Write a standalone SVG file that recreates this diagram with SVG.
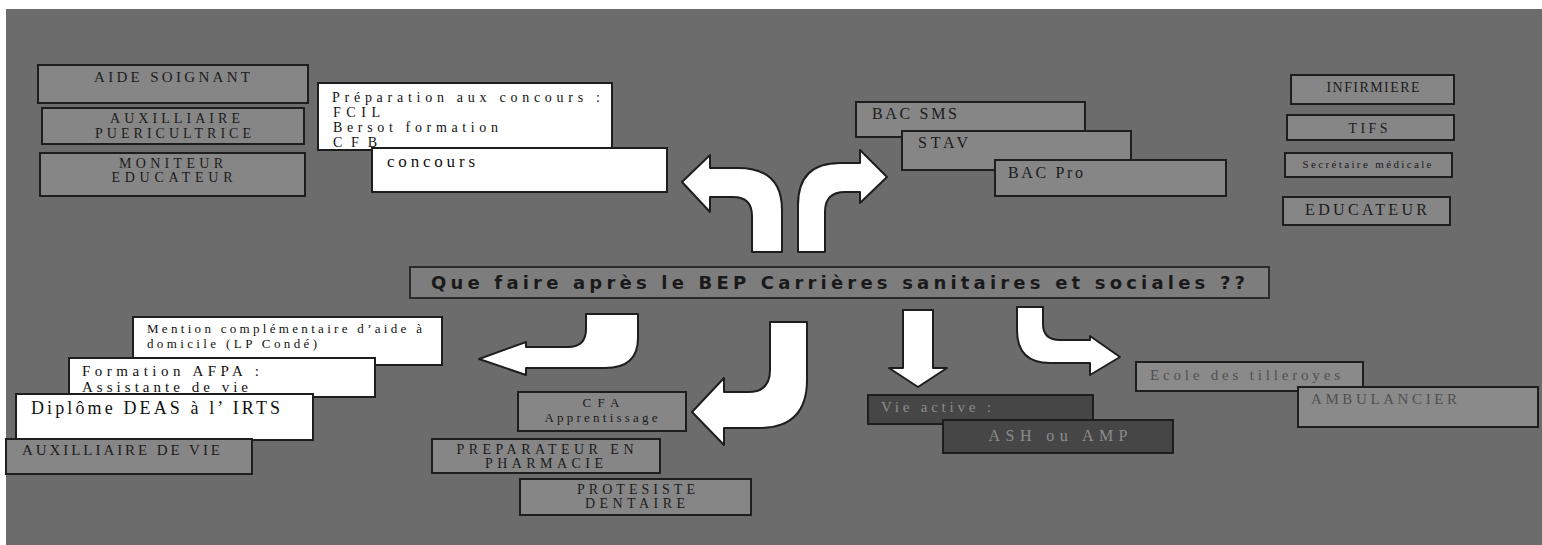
<svg xmlns="http://www.w3.org/2000/svg" width="1542" height="545" viewBox="0 0 1542 545">
<style>
.g{fill:#868686;stroke:#1e1e1e;stroke-width:2}
.w{fill:#ffffff;stroke:#1e1e1e;stroke-width:2}
.d{fill:#464646;stroke:#1e1e1e;stroke-width:2}
.l{fill:#8a8a8a;stroke:#1e1e1e;stroke-width:2}
.t{font-family:"Liberation Serif","Times New Roman",serif;fill:#1c1c1c;font-size:15px}
.tc{text-anchor:middle}
.tw{font-family:"Liberation Serif","Times New Roman",serif;fill:#111;font-size:17px}
.td{font-family:"Liberation Serif","Times New Roman",serif;fill:#8c8c8c;font-size:15px}
.tl{font-family:"Liberation Serif","Times New Roman",serif;fill:#505050;font-size:15px}
.arr{fill:#ffffff;stroke:#1e1e1e;stroke-width:2;stroke-linejoin:round}
</style>
<rect x="0" y="0" width="1542" height="545" fill="#ffffff"/>
<rect x="6" y="9" width="1536" height="536" fill="#6c6c6c"/>

<g id="aide-soignant"><rect class="g" x="38" y="65" width="270" height="38"/><text class="t tc" x="172" y="82" textLength="156">AIDE SOIGNANT</text></g>
<g id="auxilliaire-puericultrice"><rect class="g" x="42" y="108" width="262" height="36"/><text class="t tc" x="175" y="123" style="font-size:14px" textLength="130">AUXILLIAIRE</text><text class="t tc" x="173" y="138" style="font-size:14px" textLength="156">PUERICULTRICE</text></g>
<g id="moniteur-educateur"><rect class="g" x="40" y="153" width="265" height="43"/><text class="t tc" x="171" y="168" style="font-size:14px" textLength="104">MONITEUR</text><text class="t tc" x="172" y="182" style="font-size:14px" textLength="121">EDUCATEUR</text></g>

<g id="preparation"><rect class="w" x="318" y="83" width="294" height="67"/><text class="tw" x="332" y="102" style="font-size:14px" textLength="268">Préparation aux concours :</text><text class="tw" x="333" y="117" style="font-size:14px" textLength="47">FCIL</text><text class="tw" x="333" y="132" style="font-size:14px" textLength="165">Bersot formation</text><text class="tw" x="333" y="147" style="font-size:14px" textLength="44">CFB</text></g>
<g id="concours"><rect class="w" x="372" y="148" width="295" height="44"/><text class="tw" x="387" y="167" textLength="88">concours</text></g>

<g id="bac-sms"><rect class="g" x="856" y="102" width="229" height="35"/><text class="t" x="872" y="119" style="font-size:16px" textLength="85">BAC SMS</text></g>
<g id="stav"><rect class="g" x="902" y="131" width="229" height="39"/><text class="t" x="918" y="148" style="font-size:16px" textLength="50">STAV</text></g>
<g id="bac-pro"><rect class="g" x="995" y="160" width="231" height="36"/><text class="t" x="1008" y="178" style="font-size:16px" textLength="75">BAC Pro</text></g>

<g id="infirmiere"><rect class="g" x="1291" y="75" width="163" height="29"/><text class="t tc" x="1373" y="92" style="font-size:14px" textLength="93">INFIRMIERE</text></g>
<g id="tifs"><rect class="g" x="1287" y="115" width="167" height="25"/><text class="t tc" x="1368" y="133" style="font-size:14px" textLength="39">TIFS</text></g>
<g id="secretaire"><rect class="g" x="1285" y="153" width="167" height="24"/><text class="t tc" x="1367" y="168" style="font-size:11px" textLength="129">Secrétaire médicale</text></g>
<g id="educateur"><rect class="g" x="1283" y="197" width="167" height="28"/><text class="t tc" x="1366" y="215" style="font-size:16px" textLength="122">EDUCATEUR</text></g>

<g id="titre"><rect x="410" y="267" width="859" height="31" fill="#7d7d7d" stroke="#2a2a2a" stroke-width="2"/><text x="431" y="289" font-family="'DejaVu Sans',Verdana,sans-serif" font-size="18" font-weight="bold" fill="#1a1a1a" textLength="814">Que faire après le BEP Carrières sanitaires et sociales ??</text></g>

<g id="mention"><rect class="w" x="133" y="317" width="309" height="48"/><text class="tw" x="147" y="333" style="font-size:13px" textLength="275">Mention complémentaire d’aide à</text><text class="tw" x="147" y="348" style="font-size:13px" textLength="170">domicile (LP Condé)</text></g>
<g id="afpa"><rect class="w" x="69" y="358" width="306" height="39"/><text class="tw" x="82" y="376" style="font-size:15px" textLength="177">Formation AFPA :</text><text class="tw" x="82" y="392" style="font-size:15px" textLength="166">Assistante de vie</text></g>
<g id="deas"><rect class="w" x="16" y="394" width="297" height="46"/><text class="tw" x="31" y="414" style="font-size:18px" textLength="249">Diplôme DEAS à l’ IRTS</text></g>
<g id="auxilliaire-de-vie"><rect class="g" x="6" y="439" width="246" height="35"/><text class="t" x="22" y="455" textLength="198">AUXILLIAIRE DE VIE</text></g>

<g id="cfa"><rect class="g" x="518" y="392" width="168" height="39"/><text class="t tc" x="601" y="407" style="font-size:13px" textLength="37">CFA</text><text class="t tc" x="601" y="422" style="font-size:13px" textLength="113">Apprentissage</text></g>
<g id="preparateur"><rect class="g" x="432" y="439" width="228" height="34"/><text class="t tc" x="545" y="454" style="font-size:14px" textLength="177">PREPARATEUR EN</text><text class="t tc" x="544" y="468" style="font-size:14px" textLength="118">PHARMACIE</text></g>
<g id="protesiste"><rect class="g" x="520" y="479" width="231" height="36"/><text class="t tc" x="636" y="494" style="font-size:14px" textLength="118">PROTESISTE</text><text class="t tc" x="635" y="508" style="font-size:14px" textLength="100">DENTAIRE</text></g>

<g id="vie-active"><rect class="d" x="868" y="395" width="225" height="29"/><text class="td" x="881" y="412" textLength="110">Vie active :</text></g>
<g id="ash-amp"><rect class="d" x="943" y="420" width="230" height="33"/><text class="td tc" x="1058" y="441" style="font-size:16px" textLength="139">ASH ou AMP</text></g>
<g id="ecole"><rect class="l" x="1136" y="362" width="227" height="29"/><text class="tl" x="1150" y="380" textLength="190">Ecole des tilleroyes</text></g>
<g id="ambulancier"><rect class="l" x="1298" y="387" width="240" height="40"/><text class="tl" x="1311" y="404" textLength="146">AMBULANCIER</text></g>

<g id="connecteurs">
<path class="arr" d="M752,252 L752,216 Q752,197 733,197 L710,197 L710,212 L682,182 L710,155 L710,168 L738,168 Q782,168 782,210 L782,252 Z"/>
<path class="arr" d="M798,252 L798,205 Q798,163 840,163 L860,163 L860,150 L887,177 L860,203 L860,192 L845,192 Q825,192 825,212 L825,252 Z"/>
<path class="arr" d="M586,314 L638,314 L638,338 Q638,368 605,368 L526,368 L526,375 L479,359 L526,342 L526,347 L568,347 Q586,347 586,329 Z"/>
<path class="arr" d="M770,322 L807,322 L807,380 Q807,428 759,428 L724,428 L724,445 L692,412 L724,378 L724,392 L748,392 Q770,392 770,370 Z"/>
<path class="arr" d="M903,310 L933,310 L933,368 L947,368 L918,387 L889,368 L903,368 Z"/>
<path class="arr" d="M1017,307 L1043,307 L1043,324 Q1043,340 1060,340 L1090,340 L1090,336 L1120,357 L1090,375 L1090,363 L1050,363 Q1017,363 1017,330 Z"/>
</g>
</svg>
